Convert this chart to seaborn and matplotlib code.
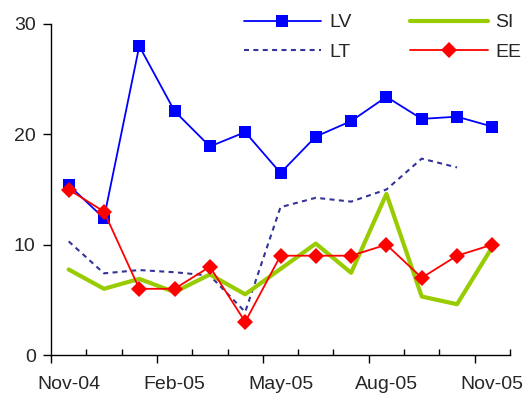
import pandas as pd
import matplotlib
matplotlib.use("Agg")
import matplotlib.pyplot as plt
import seaborn as sns
from matplotlib.ticker import FixedLocator

# monthly values, Nov-04 .. Nov-05
months = ["Nov-04", "Dec-04", "Jan-05", "Feb-05", "Mar-05", "Apr-05", "May-05",
          "Jun-05", "Jul-05", "Aug-05", "Sep-05", "Oct-05", "Nov-05"]
lv = [15.4, 12.4, 28.0, 22.1, 18.9, 20.2, 16.5, 19.8, 21.2, 23.4, 21.4, 21.6, 20.7]
lt = [10.3, 7.4, 7.7, 7.5, 7.2, 3.9, 13.4, 14.25, 13.9, 15.0, 17.8, 17.0, None]
si = [7.75, 6.0, 6.9, 5.7, 7.3, 5.5, 7.8, 10.1, 7.45, 14.6, 5.3, 4.6, 9.8]
ee = [15.0, 13.0, 6.0, 6.0, 8.0, 3.0, 9.0, 9.0, 9.0, 10.0, 7.0, 9.0, 10.0]
label_months = ["Nov-04", "Feb-05", "May-05", "Aug-05", "Nov-05"]

sns.set_style("white")
plt.rcParams["font.family"] = ["Liberation Sans", "DejaVu Sans"]

df = pd.DataFrame({"month": months, "LV": lv, "LT": lt, "SI": si, "EE": ee})

fig = plt.figure(figsize=(5.32, 3.96), dpi=100)
ax = fig.add_axes([51 / 532, 41 / 396, 459 / 532, 331 / 396])

sns.lineplot(data=df, x="month", y="LV", ax=ax, color="#0000FF", lw=1.3,
             marker="s", markersize=8, markeredgewidth=0, label="LV", sort=False)
sns.lineplot(data=df.dropna(subset=["LT"]), x="month", y="LT", ax=ax, color="#333399",
             lw=1.5, dashes=(2.4, 2.1), label="LT", sort=False)
sns.lineplot(data=df, x="month", y="SI", ax=ax, color="#99CC00", lw=3,
             label="SI", sort=False)
sns.lineplot(data=df, x="month", y="EE", ax=ax, color="#FF0000", lw=1.3,
             marker="D", markersize=8, markeredgewidth=0, label="EE", sort=False)

ax.set_xlim(-0.5, len(months) - 0.5)
ax.set_ylim(0, 30)
ax.set_yticks([0, 10, 20, 30])
ax.set_xlabel("")
ax.set_ylabel("")

for side in ["top", "right"]:
    ax.spines[side].set_visible(False)
for side in ["left", "bottom"]:
    ax.spines[side].set_color("black")
    ax.spines[side].set_linewidth(1)

# tick marks on category boundaries: long outward every 3rd, short inward otherwise
bounds = [i - 0.5 for i in range(len(months) + 1)]
major_b = [b for i, b in enumerate(bounds) if i % 3 == 0]
minor_b = [b for i, b in enumerate(bounds) if i % 3 != 0]
ax.xaxis.set_major_locator(FixedLocator(major_b))
ax.xaxis.set_minor_locator(FixedLocator(minor_b))
ax.tick_params(axis="x", which="major", direction="out", length=6, width=1,
               color="black", labelbottom=False, bottom=True)
ax.tick_params(axis="x", which="minor", direction="in", length=4, width=1,
               color="black", bottom=True)
ax.tick_params(axis="y", which="major", direction="out", length=6, width=1,
               color="black", labelsize=14, left=True, pad=5)

sec = ax.secondary_xaxis("bottom")
sec.set_xticks([months.index(m) for m in label_months])
sec.set_xticklabels(label_months)
sec.tick_params(length=0, labelsize=14, pad=15)
sec.spines["bottom"].set_visible(False)

ax.legend(ncol=2, frameon=False, fontsize=14, loc="upper right",
          bbox_to_anchor=(1.063, 1.084), handlelength=4, columnspacing=3.0,
          labelspacing=0.6, handletextpad=0.4)

fig.savefig("out.png", dpi=100)
